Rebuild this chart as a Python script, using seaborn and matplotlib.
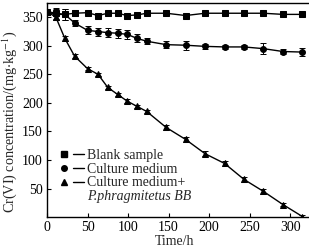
import matplotlib
matplotlib.use('Agg')
import matplotlib.pyplot as plt
import seaborn as sns
import pandas as pd
from matplotlib.lines import Line2D
from matplotlib.legend_handler import HandlerTuple

time_h = [0, 11, 22, 34, 50, 63, 75, 87, 99, 111, 123, 147, 171, 195, 219, 243, 267, 291, 315]
blank = [360, 357, 355, 357, 358, 353, 357, 357, 353, 354, 357, 357, 353, 357, 357, 357, 357, 355, 355]
blank_err = [3, 10, 10, 5, 3, 3, 3, 3, 3, 3, 3, 3, 3, 3, 3, 3, 3, 3, 3]
culture = [359, 355, 355, 340, 327, 325, 323, 322, 320, 313, 308, 302, 301, 299, 298, 298, 295, 290, 289]
culture_err = [3, 10, 10, 6, 7, 7, 8, 8, 8, 7, 5, 6, 8, 5, 4, 4, 10, 5, 7]
bb = [360, 350, 313, 282, 260, 250, 227, 215, 203, 194, 185, 157, 136, 111, 94, 66, 45, 22, 1]
bb_err = [3, 4, 4, 4, 3, 3, 3, 3, 3, 3, 3, 4, 4, 4, 4, 4, 4, 3, 3]

names = ["Blank sample", "Culture medium", "Culture medium+"]
marker_list = ["s", "o", "^"]
xticks = [0, 50, 100, 150, 200, 250, 300]
yticks = [50, 100, 150, 200, 250, 300, 350]

sns.set_style('ticks')
plt.rcParams['font.family'] = ['Liberation Serif', 'DejaVu Serif']
plt.rcParams['mathtext.fontset'] = 'stix'

series = [blank, culture, bb]
errs = [blank_err, culture_err, bb_err]
rows = []
for n, s in zip(names, series):
    for t, v in zip(time_h, s):
        rows.append({"time": t, "value": v, "series": n})
df = pd.DataFrame(rows)

fig = plt.figure(figsize=(3.09, 2.47), dpi=100)
ax = fig.add_axes([0.152, 0.121, 0.845, 0.867])

sns.lineplot(data=df, x="time", y="value", hue="series", style="series",
             markers=dict(zip(names, marker_list)), dashes=False,
             palette=["black"] * 3, markersize=4.2, linewidth=1.0,
             markeredgecolor="black", legend=False, ax=ax)
for s, e in zip(series, errs):
    ax.errorbar(time_h, s, yerr=e, fmt='none', ecolor='black', elinewidth=0.7, capsize=2, capthick=0.7)

ax.set_xlim(0, 322)
ax.set_ylim(0, 375)
ax.set_xticks(xticks)
ax.set_yticks(yticks)
ax.tick_params(direction='in', length=3, width=0.8, labelsize=10, colors='black', pad=3)
for sp in ax.spines.values():
    sp.set_linewidth(1.0)
    sp.set_color('black')
ax.spines['right'].set_visible(False)

ax.set_xlabel("Time/h", fontsize=10)
ax.xaxis.set_label_coords(0.49, -0.085)
ax.set_ylabel(r"Cr(VI) concentration/(mg$\cdot$kg$^{-1}$)", fontsize=10.2)
ax.yaxis.set_label_coords(-0.108, 0.446)

handles = []
for m in marker_list:
    handles.append((Line2D([], [], marker=m, ls='none', color='k', ms=4),
                    Line2D([], [], color='k', lw=1)))
handles.append(Line2D([], [], ls='none'))
labels = names + ["P.phragmitetus BB"]
leg = fig.legend(handles, labels, handler_map={tuple: HandlerTuple(ndivide=None, pad=0.3)},
                 loc='upper left', bbox_to_anchor=(58 / 309, 1 - 149 / 247),
                 bbox_transform=fig.transFigure, frameon=False, borderpad=0,
                 borderaxespad=0, handlelength=1.9, handletextpad=0.2,
                 labelspacing=0.05, fontsize=10)
leg.get_texts()[3].set_fontstyle('italic')

fig.savefig("out.png", dpi=100)
